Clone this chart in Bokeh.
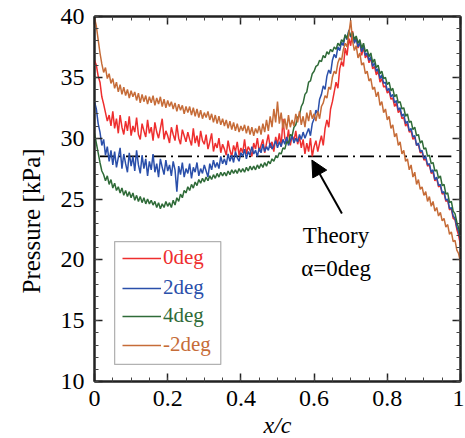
from bokeh.plotting import figure
from bokeh.models import (Range1d, LinearAxis, Legend, LegendItem, BoxAnnotation,
                          Arrow, NormalHead, Label, FixedTicker, Title)
from bokeh.embed import file_html
from bokeh.resources import INLINE

# ---------------- data ----------------
x_c = [round(i * 0.005, 3) for i in range(201)]

p_0deg = [36.4, 36.0, 35.1, 34.6, 33.4, 32.8, 32.1, 31.4, 31.9, 31.0, 32.2,
          30.8, 31.6, 30.4, 31.9, 30.9, 30.3, 31.4, 30.6, 31.8, 30.2,
          31.0, 30.5, 31.7, 30.3, 29.9, 31.2, 30.6, 30.1, 31.5, 30.4,
          30.9, 29.8, 31.3, 30.5, 30.0, 30.8, 31.6, 29.9, 30.6, 30.2,
          29.6, 30.9, 30.3, 29.8, 31.1, 30.0, 29.5, 30.7, 30.2, 29.7,
          30.5, 29.9, 29.4, 30.8, 29.6, 30.2, 29.3, 30.6, 29.8, 29.5,
          30.3, 29.1, 29.7, 30.4, 28.9, 29.6, 29.2, 30.0, 28.8, 29.5,
          29.1, 28.6, 29.8, 29.0, 28.5, 29.4, 28.9, 29.7, 28.6, 29.2,
          28.8, 29.9, 28.7, 29.3, 29.0, 28.5, 29.6, 29.1, 30.0, 28.9,
          29.4, 29.9, 28.8, 29.6, 30.3, 29.2, 29.7, 28.9, 30.1, 29.5,
          30.4, 29.3, 31.6, 30.0, 29.6, 30.7, 29.4, 30.2, 29.8, 30.6,
          29.5, 30.1, 29.2, 29.9, 28.7, 29.6, 28.9, 30.0, 28.5, 29.3,
          29.8, 28.9, 29.6, 30.2, 29.4, 30.8, 31.5, 30.9, 32.4, 33.0,
          33.8, 34.6, 34.1, 35.7, 36.3, 35.9, 37.4, 36.8, 38.2, 37.6,
          38.8, 37.9, 38.3, 37.4, 37.9, 36.8, 37.5, 36.6, 36.9, 36.2,
          36.6, 35.7, 35.9, 35.2, 35.6, 34.6, 34.9, 34.2, 34.3, 33.7,
          33.9, 33.2, 33.3, 32.6, 32.9, 32.1, 32.3, 31.6, 31.7, 31.0,
          31.2, 30.5, 30.6, 29.9, 30.1, 29.4, 29.5, 28.8, 28.9, 28.2,
          28.3, 27.7, 27.8, 27.1, 27.2, 26.5, 26.7, 26.0, 26.1, 25.4,
          25.5, 24.8, 24.9, 24.1, 24.2, 23.4, 23.3, 22.5, 22.0, 21.2]

p_2deg = [33.0, 32.4, 31.2, 30.5, 29.4, 29.9, 28.6, 29.3, 28.1, 29.0, 27.8,
          28.9, 27.6, 28.4, 29.2, 27.5, 28.7, 27.9, 27.2, 28.8, 27.7,
          28.5, 27.3, 29.0, 27.8, 27.1, 28.6, 27.5, 28.3, 26.9, 28.1,
          27.4, 28.7, 27.2, 27.9, 26.8, 28.3, 27.6, 27.0, 28.2, 27.3,
          27.8, 26.9, 28.1, 27.4, 25.6, 27.7, 27.0, 28.0, 26.8, 27.5,
          27.1, 27.9, 26.7, 27.6, 27.2, 28.0, 26.9, 27.5, 27.1, 27.8,
          27.3, 26.8, 27.9, 27.4, 28.2, 27.6, 28.0, 27.5, 28.5, 27.9,
          28.3, 27.8, 28.7, 28.1, 28.6, 28.0, 28.9, 28.4, 28.1, 28.8,
          28.5, 29.1, 28.3, 28.9, 28.6, 29.3, 28.7, 29.0, 28.5, 29.2,
          28.8, 29.5, 28.9, 29.3, 29.0, 29.6, 29.1, 29.4, 29.8, 29.2,
          29.7, 29.3, 29.9, 29.5, 30.1, 29.4, 29.8, 30.2, 29.6, 30.0,
          29.7, 30.3, 29.9, 30.5, 30.0, 30.4, 30.8, 30.2, 31.2, 31.6,
          32.3, 32.0, 33.2, 33.6, 34.3, 34.0, 35.1, 35.6, 35.3, 36.4,
          36.9, 36.6, 37.5, 37.2, 37.9, 37.6, 38.5, 38.1, 38.9, 38.3,
          38.6, 37.8, 38.2, 37.5, 37.9, 37.1, 37.6, 36.8, 37.0, 36.4,
          36.7, 35.9, 36.2, 35.5, 35.7, 34.9, 35.2, 34.5, 34.6, 33.9,
          34.1, 33.4, 33.6, 32.9, 33.1, 32.3, 32.5, 31.8, 32.0, 31.2,
          31.4, 30.6, 30.8, 30.1, 30.2, 29.4, 29.6, 28.9, 29.0, 28.3,
          28.5, 27.8, 27.9, 27.2, 27.4, 26.6, 26.8, 26.1, 26.2, 25.5,
          25.6, 24.9, 25.0, 24.2, 24.3, 23.6, 23.4, 22.7, 22.3, 21.6]

p_4deg = [30.4, 29.6, 28.8, 28.0, 27.3, 27.0, 26.5, 26.9, 26.2, 26.6, 25.9,
          26.3, 25.7, 26.0, 25.5, 25.9, 25.3, 25.7, 25.2, 25.6, 25.1,
          25.5, 24.9, 25.3, 24.8, 25.2, 24.7, 25.1, 24.6, 25.0, 24.6,
          24.9, 24.5, 24.8, 24.3, 24.7, 24.2, 24.6, 24.3, 24.8, 24.4,
          24.7, 24.3, 24.9, 24.5, 25.1, 24.8, 25.4, 25.1, 25.7, 25.5,
          26.0, 25.7, 26.2, 25.9, 26.4, 26.1, 26.6, 26.3, 26.7, 26.4,
          26.8, 26.5, 26.9, 26.6, 27.0, 26.7, 27.1, 26.8, 27.2, 26.9,
          27.2, 26.9, 27.3, 27.0, 27.4, 27.1, 27.4, 27.1, 27.5, 27.2,
          27.5, 27.2, 27.6, 27.3, 27.7, 27.4, 27.7, 27.4, 27.8, 27.5,
          27.9, 27.6, 28.0, 27.7, 28.1, 27.9, 28.3, 28.1, 28.5, 28.4,
          28.8, 28.7, 29.2, 29.1, 29.7, 29.6, 30.3, 30.2, 30.9, 31.1,
          31.7, 31.9, 32.6, 32.9, 33.6, 33.8, 34.6, 34.7, 35.3, 35.5,
          35.9, 36.0, 36.4, 36.3, 36.8, 36.6, 37.1, 36.9, 37.3, 37.1,
          37.5, 37.3, 37.8, 37.6, 38.1, 37.9, 38.5, 38.2, 38.8, 38.4,
          38.7, 38.1, 38.4, 37.8, 38.1, 37.4, 37.8, 37.1, 37.3, 36.7,
          37.0, 36.2, 36.5, 35.8, 36.0, 35.3, 35.5, 34.9, 35.0, 34.4,
          34.6, 33.9, 34.1, 33.4, 33.6, 32.9, 33.0, 32.4, 32.5, 31.8,
          32.0, 31.3, 31.4, 30.7, 30.9, 30.2, 30.3, 29.6, 29.8, 29.1,
          29.2, 28.5, 28.6, 27.9, 28.0, 27.3, 27.4, 26.7, 26.9, 26.1,
          26.2, 25.4, 25.5, 24.7, 24.8, 24.0, 23.8, 23.1, 22.6, 21.9]

p_m2deg = [39.9, 39.2, 38.1, 37.0, 36.1, 35.4, 35.8, 34.9, 35.3, 34.5, 34.9,
           34.1, 34.6, 33.8, 34.4, 33.6, 34.2, 33.5, 34.0, 33.3, 33.9,
           33.4, 33.8, 33.1, 33.7, 32.9, 33.6, 33.0, 33.5, 32.8, 33.4,
           32.9, 33.5, 32.7, 33.3, 32.8, 33.4, 32.6, 33.2, 32.5, 33.1,
           32.6, 33.0, 32.4, 32.9, 32.2, 32.8, 32.3, 32.7, 32.0, 32.6,
           32.1, 32.6, 31.9, 32.5, 31.8, 32.4, 31.7, 32.3, 31.6, 32.1,
           31.7, 32.2, 31.5, 32.0, 31.3, 31.9, 31.2, 31.8, 31.1, 31.6,
           31.0, 31.5, 30.8, 31.4, 30.7, 31.3, 30.6, 31.2, 30.5, 31.0,
           30.6, 31.1, 30.4, 31.0, 30.3, 30.9, 30.2, 30.8, 30.4, 31.0,
           30.3, 31.2, 30.5, 31.5, 30.6, 31.8, 30.9, 32.4, 31.3, 33.0,
           31.2, 32.1, 30.8, 31.6, 30.7, 31.9, 30.9, 31.5, 31.0, 32.0,
           31.3, 32.2, 31.1, 31.8, 30.9, 32.1, 31.4, 32.3, 31.6, 32.0,
           31.4, 32.2, 31.6, 32.6, 32.9, 33.5, 33.3, 34.2, 34.0, 35.0,
           35.5, 35.3, 36.2, 36.6, 36.4, 37.3, 37.8, 37.5, 38.6, 39.7,
           38.0, 37.2, 37.6, 36.6, 37.0, 36.0, 36.2, 35.3, 35.5, 34.7,
           34.9, 34.0, 34.2, 33.4, 33.8, 32.7, 33.0, 32.1, 32.4, 31.5,
           31.8, 30.8, 31.1, 30.1, 30.4, 29.4, 29.7, 28.7, 29.0, 28.1,
           28.3, 27.4, 27.8, 26.8, 27.2, 26.2, 26.6, 25.8, 26.0, 25.3,
           25.6, 24.8, 25.2, 24.4, 24.8, 24.0, 24.3, 23.6, 23.9, 23.2,
           23.4, 22.7, 22.9, 22.1, 22.3, 21.5, 21.6, 20.8, 20.5, 19.8]

theory_x = [0.015, 0.975]
theory_p = [28.5, 28.5]

series_labels = ["0deg", "2deg", "4deg", "-2deg"]
series_colors = ["#ee2e2e", "#2a4faa", "#2f6b38", "#c66c38"]

x_ticks = [0, 0.2, 0.4, 0.6, 0.8, 1]
x_minor = [round(i * 0.05, 2) for i in range(21)]
x_tick_labels = {0: "0", 0.2: "0.2", 0.4: "0.4", 0.6: "0.6", 0.8: "0.8", 1: "1"}
y_ticks = [10, 15, 20, 25, 30, 35, 40]
y_minor = list(range(10, 41))

FONT = "Liberation Serif"

# ---------------- figure ----------------
p = figure(frame_width=366, frame_height=365,
           x_range=Range1d(0, 1), y_range=Range1d(10, 40),
           output_backend="svg", toolbar_location=None,
           min_border_left=94, min_border_top=16, min_border_right=4,
           min_border_bottom=55, x_axis_type=None, y_axis_type=None)
p.xgrid.visible = False
p.ygrid.visible = False
p.outline_line_color = "#222222"
p.outline_line_width = 2
p.background_fill_color = "white"
p.border_fill_color = "white"


def style_axis(ax):
    ax.major_tick_in = 8
    ax.major_tick_out = 0
    ax.minor_tick_in = 4
    ax.minor_tick_out = 0
    ax.axis_line_color = "#222222"
    ax.axis_line_width = 2
    ax.major_tick_line_color = "#222222"
    ax.major_tick_line_width = 1.5
    ax.minor_tick_line_color = "#444444"
    ax.minor_tick_line_width = 1
    ax.major_label_text_font = FONT
    ax.major_label_text_font_size = "24px"
    ax.major_label_text_color = "black"


xb = LinearAxis(ticker=FixedTicker(ticks=x_ticks, minor_ticks=x_minor))
xb.major_label_overrides = x_tick_labels
style_axis(xb)
xb.major_label_standoff = 9
xb.axis_label = "x/c"
xb.axis_label_text_font = FONT
xb.axis_label_text_font_style = "italic"
xb.axis_label_text_font_size = "24px"
xb.axis_label_text_color = "black"
xb.axis_label_standoff = 3
p.add_layout(xb, "below")

xt = LinearAxis(ticker=FixedTicker(ticks=x_ticks, minor_ticks=x_minor))
style_axis(xt)
xt.major_label_overrides = {t: "" for t in x_ticks}
xt.major_label_standoff = 0
p.add_layout(xt, "above")

yl = LinearAxis(ticker=FixedTicker(ticks=y_ticks, minor_ticks=y_minor))
style_axis(yl)
yl.major_label_standoff = 10
p.add_layout(yl, "left")

yr = LinearAxis(ticker=FixedTicker(ticks=y_ticks, minor_ticks=y_minor))
style_axis(yr)
yr.major_label_overrides = {t: "" for t in y_ticks}
yr.major_label_standoff = 0
p.add_layout(yr, "right")

ytitle = Title(text="Pressure [kPa]", align="left", offset=88,
               text_font=FONT, text_font_size="25px", text_font_style="normal",
               text_color="black", standoff=26)
p.add_layout(ytitle, "left")

# theory line
p.line(theory_x, theory_p, line_color="black", line_width=1.6, line_dash="14 5 2 5")

r0 = p.line(x_c, p_0deg, line_color=series_colors[0], line_width=1.5)
r1 = p.line(x_c, p_2deg, line_color=series_colors[1], line_width=1.5)
r2 = p.line(x_c, p_4deg, line_color=series_colors[2], line_width=1.5)
r3 = p.line(x_c, p_m2deg, line_color=series_colors[3], line_width=1.5)
renderers = [r0, r1, r2, r3]

# legend box
box = BoxAnnotation(left=0.055, right=0.345, bottom=11.4, top=21.5,
                    fill_color="white", fill_alpha=1.0,
                    line_color="black", line_width=1.3, level="overlay")
p.add_layout(box)

row_bottoms = [111, 81, 53, 24]
for r, lab, col, yb in zip(renderers, series_labels, series_colors, row_bottoms):
    lg = Legend(items=[LegendItem(label=lab, renderers=[r])],
                location=(28, yb), padding=0, margin=0, spacing=0,
                border_line_color=None, background_fill_alpha=0,
                glyph_width=39, glyph_height=20, label_height=20,
                label_standoff=2, label_text_font=FONT,
                label_text_font_size="21px", label_text_color=col)
    p.add_layout(lg, "center")

# arrow + annotation
p.add_layout(Arrow(end=NormalHead(size=16, fill_color="black", line_color="black"),
                   x_start=0.676, y_start=23.8, x_end=0.594, y_end=28.2,
                   line_color="black", line_width=2))
p.add_layout(Label(x=0.66, y=22.0, text="Theory", text_font=FONT,
                   text_font_size="23px", text_align="center",
                   text_baseline="middle", text_color="black"))
p.add_layout(Label(x=0.66, y=19.3, text="\u03b1=0deg", text_font=FONT,
                   text_font_size="23px", text_align="center",
                   text_baseline="middle", text_color="black"))

open("out.html", "w").write(file_html(p, INLINE))
